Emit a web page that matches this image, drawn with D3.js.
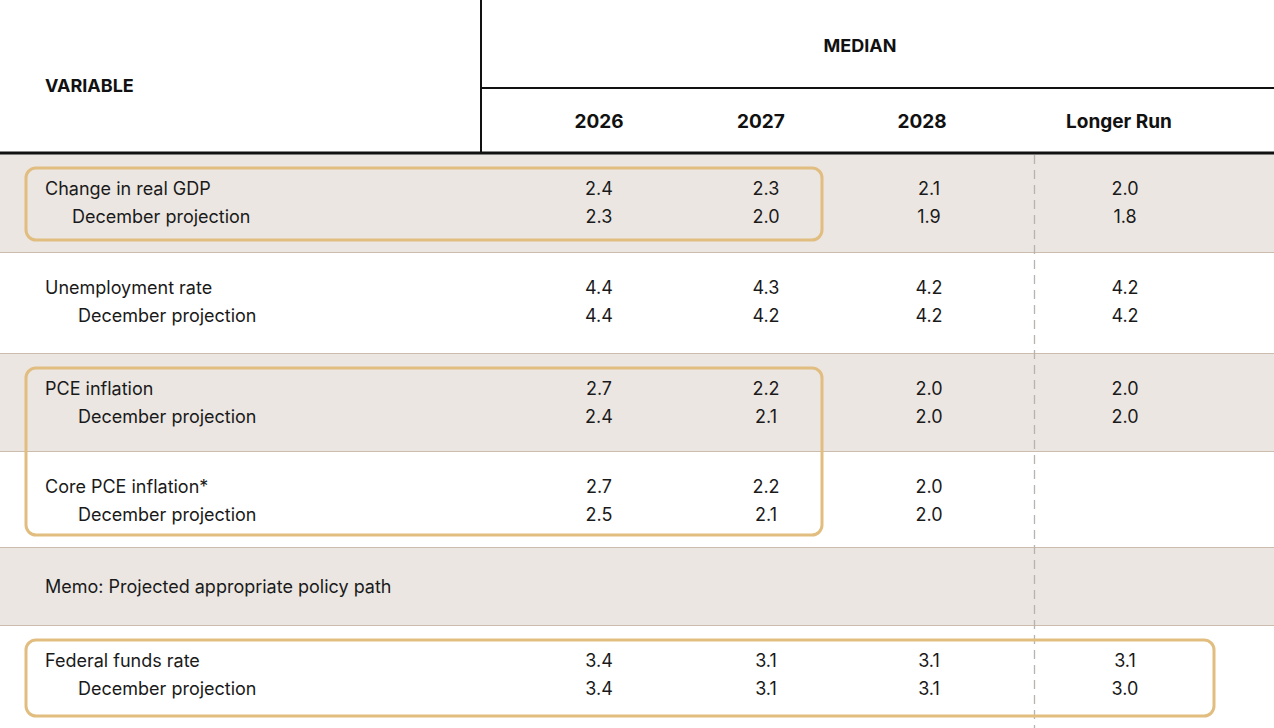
<!DOCTYPE html>
<html><head><meta charset="utf-8">
<script src="https://cdn.jsdelivr.net/npm/d3@7"></script>
<style>body{margin:0;background:#fff}svg{display:block;font-family:Inter,"Noto Sans",sans-serif}</style>
</head><body><svg id="t" width="1274" height="728"></svg>
<script>
var columns = ['2026', '2027', '2028', 'Longer Run'];
var variables = ['Change in real GDP', 'Unemployment rate', 'PCE inflation', 'Core PCE inflation*', 'Memo: Projected appropriate policy path', 'Federal funds rate'];
var current = [
  ['2.4', '2.3', '2.1', '2.0'],
  ['4.4', '4.3', '4.2', '4.2'],
  ['2.7', '2.2', '2.0', '2.0'],
  ['2.7', '2.2', '2.0', ''],
  null,
  ['3.4', '3.1', '3.1', '3.1']
];
var december = [
  ['2.3', '2.0', '1.9', '1.8'],
  ['4.4', '4.2', '4.2', '4.2'],
  ['2.4', '2.1', '2.0', '2.0'],
  ['2.5', '2.1', '2.0', ''],
  null,
  ['3.4', '3.1', '3.1', '3.0']
];
var rowEdges = [153, 252, 353, 451, 547, 625, 728];
var shaded = [true, false, true, false, true, false];
var highlights = [[0, 0, 1], [2, 3, 1], [5, 5, 3]]; // first row, last row, last column

var svg = d3.select('#t');
var W = 1274;
var colX = d3.scaleOrdinal().domain(columns).range([599, 761, 922, 1119]);
var valX = d3.scaleOrdinal().domain(columns).range([599, 766, 929, 1125]);

// row backgrounds
svg.selectAll('rect.row').data(variables).enter().append('rect')
  .attr('x', 0).attr('width', W)
  .attr('y', function (d, i) { return rowEdges[i]; })
  .attr('height', function (d, i) { return rowEdges[i + 1] - rowEdges[i]; })
  .attr('fill', function (d, i) { return shaded[i] ? '#ebe6e2' : '#fff'; });

// row separators
svg.selectAll('line.sep').data(rowEdges.slice(1, -1)).enter().append('line')
  .attr('x1', 0).attr('x2', W).attr('y1', function (d) { return d + 0.5; }).attr('y2', function (d) { return d + 0.5; })
  .attr('stroke', '#cbbcad').attr('stroke-width', 1.2);

// dashed longer run divider
svg.append('line').attr('x1', 1034.5).attr('x2', 1034.5).attr('y1', 155).attr('y2', 728)
  .attr('stroke', '#b9b3ae').attr('stroke-dasharray', '9,6').attr('stroke-width', 1.3);

// header lines
svg.append('line').attr('x1', 481).attr('x2', 481).attr('y1', 0).attr('y2', 153).attr('stroke', '#111').attr('stroke-width', 2);
svg.append('line').attr('x1', 481).attr('x2', W).attr('y1', 88).attr('y2', 88).attr('stroke', '#111').attr('stroke-width', 2);
svg.append('line').attr('x1', 0).attr('x2', W).attr('y1', 153).attr('y2', 153).attr('stroke', '#111').attr('stroke-width', 3);

// header text
svg.append('text').attr('x', 45).attr('y', 92).text('VARIABLE')
  .attr('font-size', 18).attr('font-weight', 700).attr('fill', '#111');
svg.append('text').attr('x', 860).attr('y', 52).attr('text-anchor', 'middle').text('MEDIAN')
  .attr('font-size', 18).attr('font-weight', 700).attr('fill', '#111');
svg.selectAll('text.col').data(columns).enter().append('text')
  .attr('x', function (d) { return colX(d); }).attr('y', 128).attr('text-anchor', 'middle')
  .attr('font-size', 19).attr('font-weight', 700).attr('fill', '#111').text(function (d) { return d; });

// row labels and values
variables.forEach(function (v, i) {
  var top = rowEdges[i], bot = rowEdges[i + 1];
  var g = svg.append('g').attr('font-size', 18).attr('fill', '#1a1a1a');
  if (!current[i]) {
    g.append('text').attr('x', 45).attr('y', (top + bot) / 2 + 7).text(v);
    return;
  }
  var y1 = top + 42, y2 = top + 70;
  g.append('text').attr('x', 45).attr('y', y1).text(v);
  g.append('text').attr('x', i === 0 ? 72 : 78).attr('y', y2).text('December projection');
  g.selectAll('text.v1').data(current[i]).enter().append('text')
    .attr('x', function (d, j) { return valX(columns[j]); }).attr('y', y1).attr('text-anchor', 'middle').text(function (d) { return d; });
  g.selectAll('text.v2').data(december[i]).enter().append('text')
    .attr('x', function (d, j) { return valX(columns[j]); }).attr('y', y2).attr('text-anchor', 'middle').text(function (d) { return d; });
});

// highlight boxes
var boxRight = [822, 822, 822, 1214];
highlights.forEach(function (h) {
  var y0 = rowEdges[h[0]] + 15, y1 = rowEdges[h[1] + 1] - 12;
  svg.append('rect').attr('x', 26).attr('y', y0).attr('width', boxRight[h[2]] - 26).attr('height', y1 - y0)
    .attr('rx', 10).attr('fill', 'none').attr('stroke', '#e1bd7f').attr('stroke-width', 3);
});
</script></body></html>
